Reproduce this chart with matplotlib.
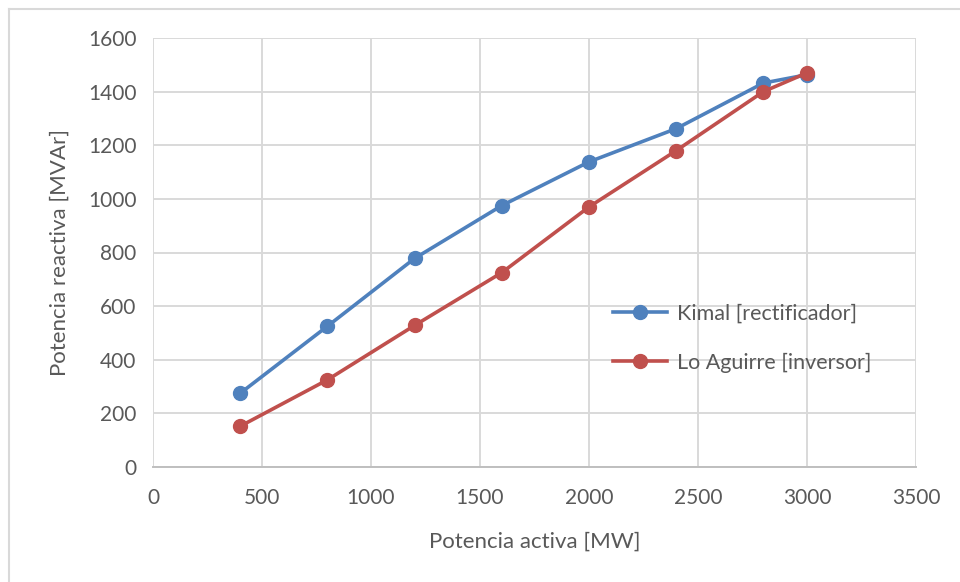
import matplotlib.pyplot as plt
from matplotlib.lines import Line2D

potencia_activa = [400, 800, 1200, 1600, 2000, 2400, 2800, 3000]
kimal = [275, 525, 778, 975, 1138, 1262, 1432, 1463]
lo_aguirre = [152, 325, 528, 725, 970, 1180, 1400, 1470]

plt.rcParams['font.family'] = ['Lato', 'DejaVu Sans']
text_color = '#595959'

fig = plt.figure(figsize=(9.6, 5.82), dpi=100)
ax = fig.add_axes([153/960, 1 - 467/582, (916 - 153)/960, (467 - 38)/582])

# chart border like the Excel frame
fig.add_artist(Line2D([9/960, 9/960], [0, 1 - 9/582], color='#D9D9D9', lw=1.5))
fig.add_artist(Line2D([9/960, 1], [1 - 9/582, 1 - 9/582], color='#D9D9D9', lw=1.5))

ax.plot(potencia_activa, kimal, color='#4F81BD', lw=2.6, marker='o', ms=10,
        label='Kimal [rectificador]', zorder=3)
ax.plot(potencia_activa, lo_aguirre, color='#C0504D', lw=2.6, marker='o', ms=10,
        label='Lo Aguirre [inversor]', zorder=4)

ax.set_xlim(0, 3500)
ax.set_ylim(0, 1600)
ax.set_xticks(range(0, 3501, 500))
ax.set_yticks(range(0, 1601, 200))
ax.grid(True, color='#D9D9D9', lw=1.4)
ax.set_axisbelow(True)
for s in ['top', 'right', 'left']:
    ax.spines[s].set_visible(False)
ax.spines['bottom'].set_color('#BFBFBF')
ax.spines['bottom'].set_linewidth(1.4)
ax.tick_params(length=0, labelsize=15, colors=text_color, pad=12)
ax.tick_params(axis='x', pad=15)

ax.set_xlabel('Potencia activa [MW]', fontsize=16, color=text_color, labelpad=17)
ax.set_ylabel('Potencia reactiva [MVAr]', fontsize=16, color=text_color, labelpad=13)

ax.legend(loc='center left', bbox_to_anchor=(0.578, 0.30), frameon=False,
          fontsize=15.5, labelcolor=text_color, labelspacing=1.35,
          handlelength=2.5, handletextpad=0.45)

fig.savefig('out.png', dpi=100)
